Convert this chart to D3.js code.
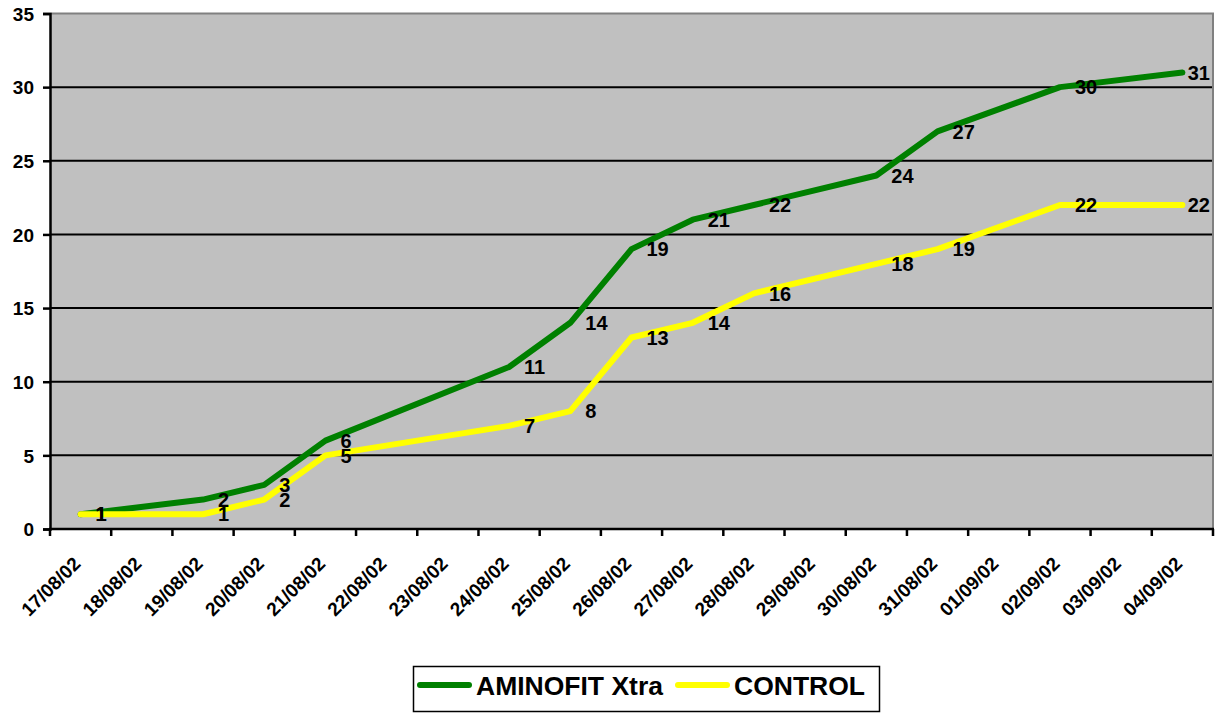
<!DOCTYPE html>
<html>
<head>
<meta charset="utf-8">
<script src="https://cdn.jsdelivr.net/npm/d3@7"></script>
<style>
  body { margin: 0; background: #fff; }
  text { font-family: "Liberation Sans", Arial, sans-serif; font-weight: bold; fill: #000; }
</style>
</head>
<body>
<svg id="chart" width="1216" height="713"></svg>
<script>
// axis categories (one per day)
var dates = ["17/08/02","18/08/02","19/08/02","20/08/02","21/08/02","22/08/02","23/08/02",
	"24/08/02","25/08/02","26/08/02","27/08/02","28/08/02","29/08/02","30/08/02",
	"31/08/02","01/09/02","02/09/02","03/09/02","04/09/02"]

// days that were counted
var sampleDates = ["17/08/02","19/08/02","20/08/02","21/08/02","24/08/02","25/08/02","26/08/02",
	"27/08/02","28/08/02","30/08/02","31/08/02","02/09/02","04/09/02"]

var aminofit = [1, 2, 3, 6, 11, 14, 19, 21, 22, 24, 27, 30, 31]
var control  = [1, 1, 2, 5, 7, 8, 13, 14, 16, 18, 19, 22, 22]

var yTicks = [0, 5, 10, 15, 20, 25, 30, 35]

var seriesNames  = ["AMINOFIT Xtra", "CONTROL"]
var seriesColors = ["#008000", "#ffff00"]

var svg = d3.select("#chart"),
	margin = {top: 13.5, left: 50, bottom: 184, right: 3},
	width = +svg.attr("width"),
	height = +svg.attr("height");

var x = d3.scaleBand()
	.domain(dates)
	.range([margin.left, width - margin.right])
	.padding(0)

var y = d3.scaleLinear()
	.domain([0, 35])
	.range([height - margin.bottom, margin.top])

// plot background
svg.append("rect")
	.attr("x", margin.left)
	.attr("y", y(35))
	.attr("width", x.range()[1] - margin.left)
	.attr("height", y(0) - y(35))
	.attr("fill", "#c0c0c0")

// gridlines
svg.append("g").selectAll("line")
	.data(yTicks.filter(d => d > 0 && d < 35))
	.enter().append("line")
	.attr("x1", margin.left).attr("x2", x.range()[1])
	.attr("y1", d => y(d)).attr("y2", d => y(d))
	.attr("stroke", "#000").attr("stroke-width", 2)

// top / right border
svg.append("path")
	.attr("d", `M${margin.left},${y(35)}H${x.range()[1]}V${y(0)}`)
	.attr("fill", "none").attr("stroke", "#808080").attr("stroke-width", 2)

// y axis
var yAxis = svg.append("g")
	.attr("transform", `translate(${margin.left},0)`)
	.call(d3.axisLeft(y).tickValues(yTicks).tickSize(7).tickPadding(9))
yAxis.selectAll("path, line").attr("stroke", "#000").attr("stroke-width", 2.5)
yAxis.selectAll("text").style("font-size", "19px").attr("dy", "0.36em")

// x axis: ticks at category boundaries
var xAxis = svg.append("g")
	.attr("transform", `translate(0,${y(0)})`)
xAxis.append("line")
	.attr("x1", margin.left - 1).attr("x2", x.range()[1] + 1)
	.attr("stroke", "#000").attr("stroke-width", 2.5)
xAxis.selectAll(".tick")
	.data(dates.concat(["end"]))
	.enter().append("line")
	.attr("class", "tick")
	.attr("x1", (d, i) => margin.left + i * x.bandwidth())
	.attr("x2", (d, i) => margin.left + i * x.bandwidth())
	.attr("y1", 0).attr("y2", 7)
	.attr("stroke", "#000").attr("stroke-width", 2.5)
xAxis.selectAll(".lbl")
	.data(dates)
	.enter().append("text")
	.attr("class", "lbl")
	.attr("text-anchor", "end")
	.attr("transform", d => `translate(${x(d) + x.bandwidth() / 2 + 1},${36}) rotate(-45)`)
	.style("font-size", "19px")
	.text(d => d)

var line = d3.line()
	.x(d => x(d.date) + x.bandwidth() / 2)
	.y(d => y(d.value))

var series = [aminofit, control].map((vals, i) => ({
	name: seriesNames[i],
	color: seriesColors[i],
	values: vals.map((v, j) => ({date: sampleDates[j], value: v}))
}))

svg.selectAll(".series")
	.data(series)
	.enter().append("path")
	.attr("class", "series")
	.attr("d", d => line(d.values))
	.attr("fill", "none")
	.attr("stroke", d => d.color)
	.attr("stroke-width", 6)
	.attr("stroke-linejoin", "round")
	.attr("stroke-linecap", "round")

// data labels to the right of each point
series.forEach(function(s) {
	svg.append("g").selectAll("text")
		.data(s.values)
		.enter().append("text")
		.style("font-size", "20px")
		.attr("y", d => y(d.value))
		.attr("dy", "0.36em")
		.text(d => d.value)
		.attr("x", function(d) {
			var px = x(d.date) + x.bandwidth() / 2 + 15
			var w = this.getComputedTextLength()
			return Math.min(px, x.range()[1] - 3 - w)
		})
})

// legend
var legend = svg.append("g")
legend.append("rect")
	.attr("x", 413.5).attr("y", 666.5)
	.attr("width", 466).attr("height", 45)
	.attr("fill", "#fff").attr("stroke", "#000").attr("stroke-width", 1.5)
var lx = [420, 678]
series.forEach(function(s, i) {
	legend.append("line")
		.attr("x1", lx[i]).attr("x2", lx[i] + 49)
		.attr("y1", 685).attr("y2", 685)
		.attr("stroke", s.color).attr("stroke-width", 6)
		.attr("stroke-linecap", "round")
	legend.append("text")
		.attr("x", lx[i] + 56).attr("y", 695)
		.style("font-size", "26.5px")
		.text(s.name)
})
</script>
</body>
</html>
